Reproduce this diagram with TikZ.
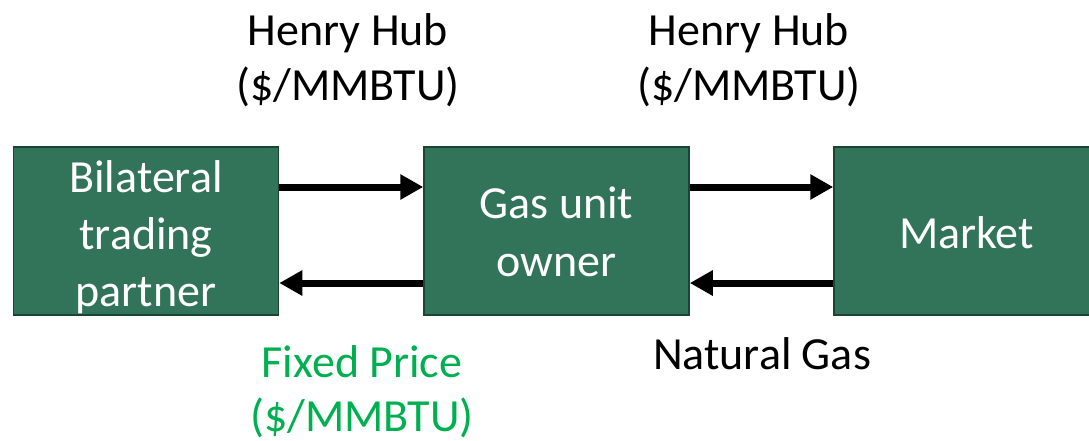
\documentclass[tikz,border=0pt]{standalone}
\usepackage{fontspec}
\setmainfont{Carlito}
\usetikzlibrary{arrows.meta}
\definecolor{boxfill}{RGB}{50,116,90}
\definecolor{boxline}{RGB}{28,68,50}
\definecolor{pricegreen}{RGB}{0,176,80}
\tikzset{
  unitbox/.style={draw=boxline, line width=1.5pt, fill=boxfill, rectangle, inner sep=0pt, minimum width=265pt, minimum height=168pt},
  boxtext/.style={anchor=base, text=white, inner sep=0pt, font=\fontsize{46}{56}\selectfont},
  lbl/.style={anchor=base, text=black, inner sep=0pt, font=\fontsize{46}{56}\selectfont},
  flow/.style={line width=7pt, -{Triangle[length=23pt, width=24pt]}},
}
\begin{document}
\begin{tikzpicture}[x=1pt, y=-1pt]
\clip (0,0) rectangle (1089,440);
\fill[white] (0,0) rectangle (1089,440);
% boxes
\node[unitbox] (bil) at (146,231) {};
\node[unitbox] (gas) at (556.5,231) {};
\node[unitbox] (mkt) at (966.5,231) {};
% box texts
\node[boxtext] (bil1) at (146,192) {Bilateral};
\node[boxtext] (bil2) at (146,249) {trading};
\node[boxtext] (bil3) at (146,306) {partner};
\node[boxtext] (gas1) at (556.5,218) {Gas unit};
\node[boxtext] (gas2) at (556.5,276) {owner};
\node[boxtext] (mkt1) at (966.5,248) {Market};
% arrows
\draw[flow] ([yshift=44pt]bil.east) -- ([yshift=44pt]gas.west);
\draw[flow] ([yshift=-52pt]gas.west) -- ([yshift=-52pt]bil.east);
\draw[flow] ([yshift=44pt]gas.east) -- ([yshift=44pt]mkt.west);
\draw[flow] ([yshift=-52pt]mkt.west) -- ([yshift=-52pt]gas.east);
% labels
\node[lbl] (hh1a) at (348,45) {Henry Hub};
\node[lbl] (hh1b) at (348,100) {(\$/MMBTU)};
\node[lbl] (hh2a) at (749,45) {Henry Hub};
\node[lbl] (hh2b) at (749,100) {(\$/MMBTU)};
\node[lbl, text=pricegreen] (fpa) at (362,377) {Fixed Price};
\node[lbl, text=pricegreen] (fpb) at (362,431) {(\$/MMBTU)};
\node[lbl] (ng) at (762,369) {Natural Gas};
\end{tikzpicture}
\end{document}
